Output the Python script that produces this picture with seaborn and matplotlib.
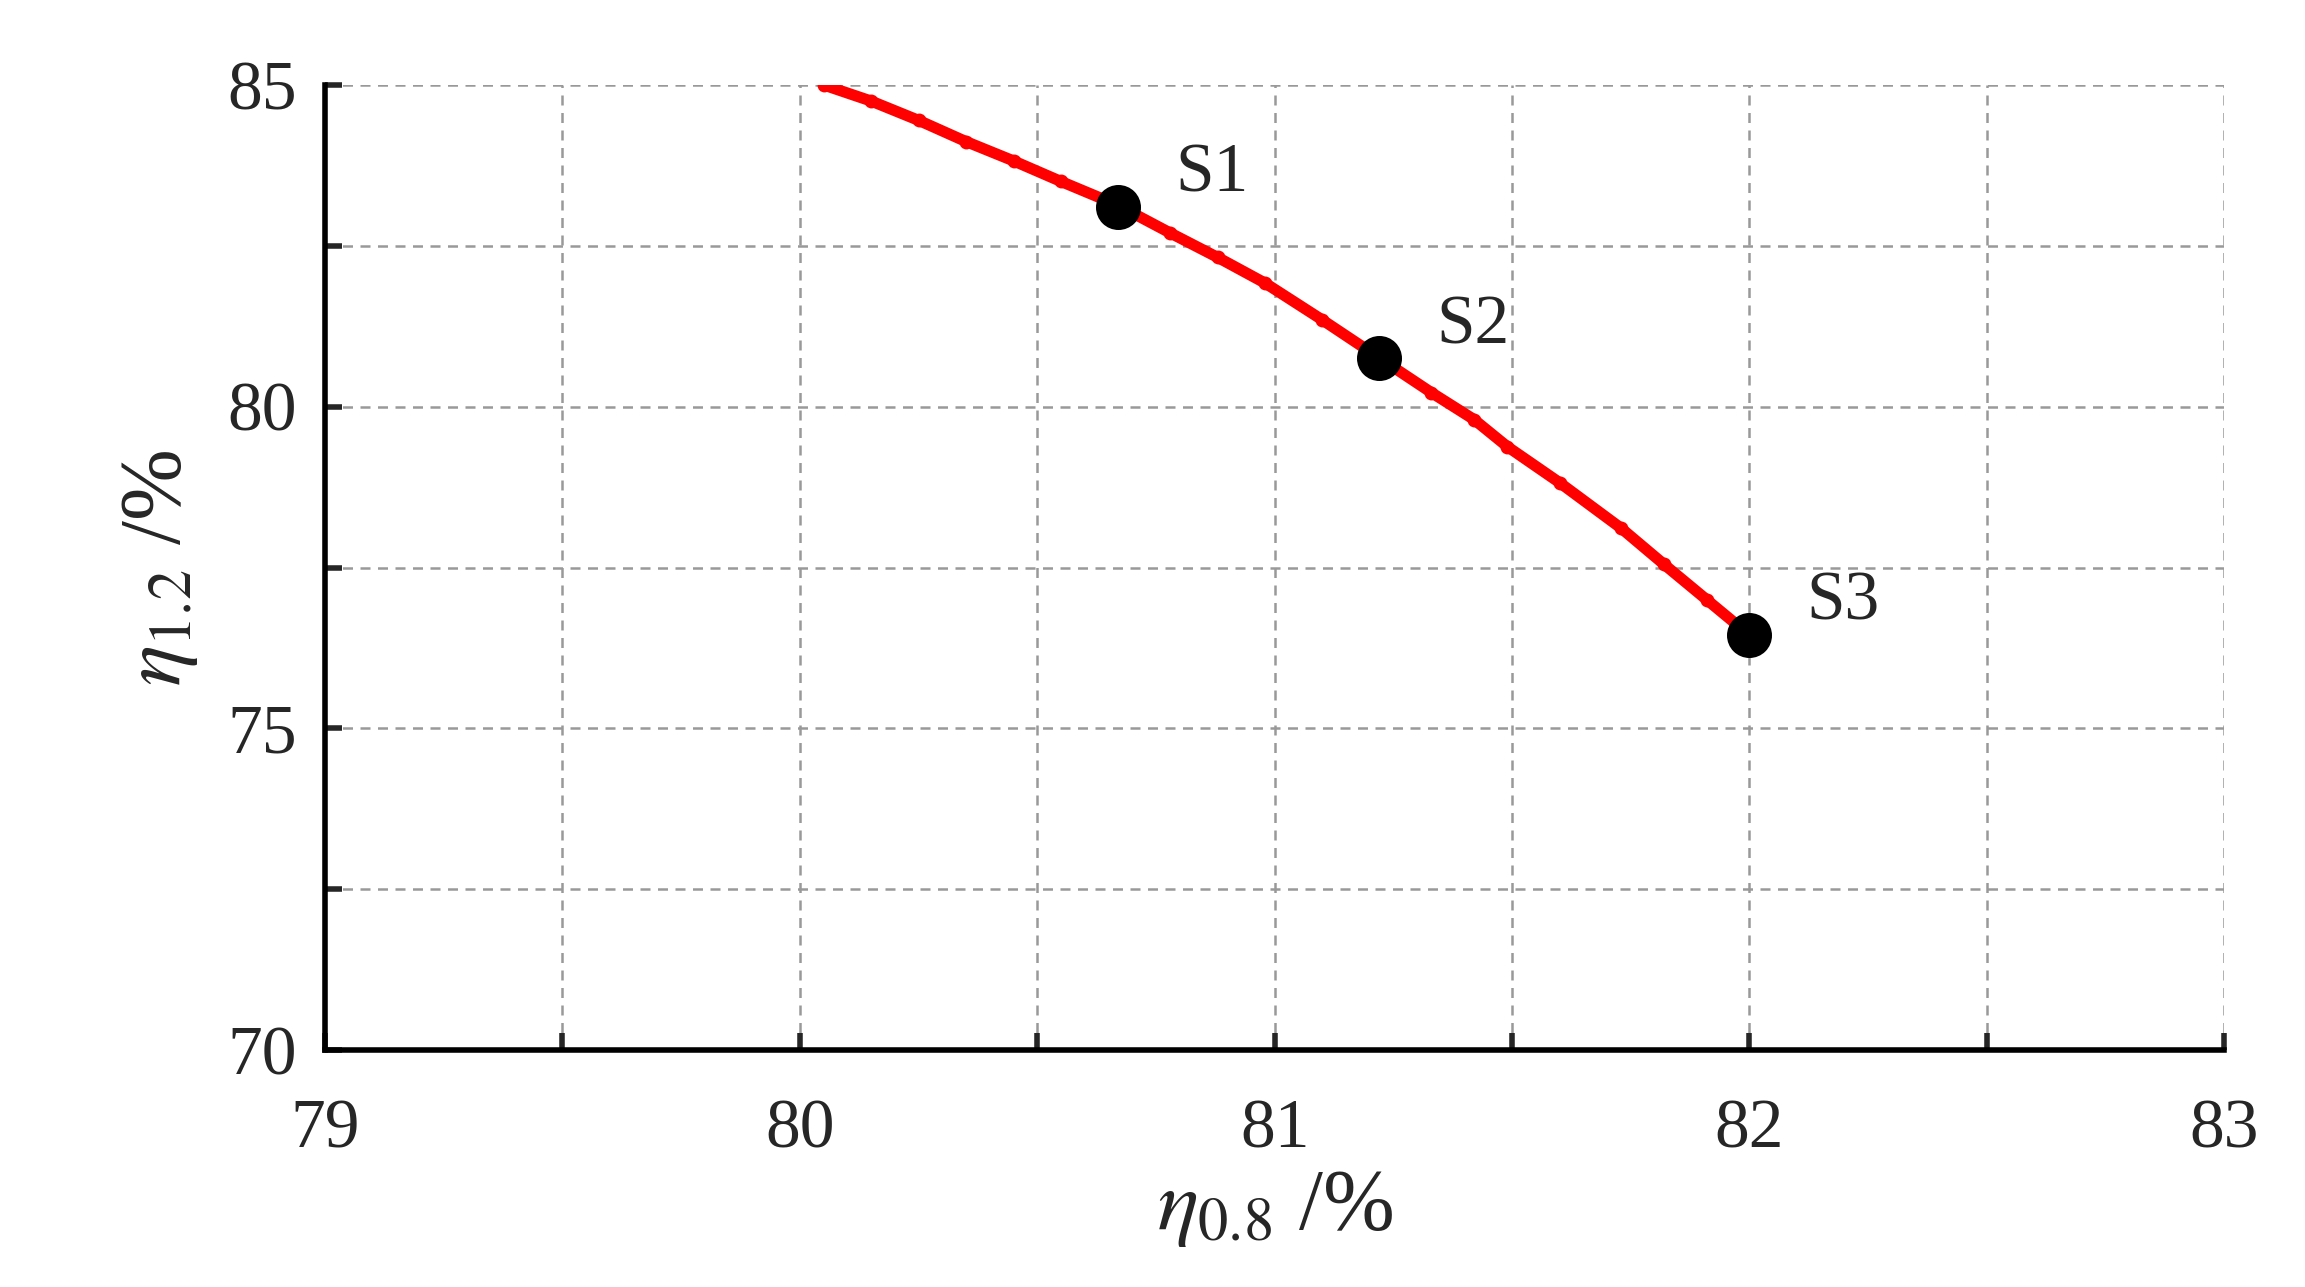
import matplotlib
matplotlib.use("Agg")
import matplotlib.pyplot as plt
import seaborn as sns
import numpy as np

curve_x = [80.05, 80.15, 80.25, 80.35, 80.45, 80.55, 80.67, 80.78, 80.88, 80.98, 81.10, 81.22, 81.33, 81.42, 81.49, 81.60, 81.73, 81.82, 81.91, 82.0]
curve_y = [85.0, 84.75, 84.45, 84.12, 83.82, 83.50, 83.13, 82.70, 82.32, 81.92, 81.35, 80.76, 80.22, 79.80, 79.38, 78.82, 78.11, 77.55, 77.00, 76.45]
sel_x = [80.67, 81.22, 82.0]
sel_y = [83.1, 80.75, 76.45]
sel_labels = ["S1", "S2", "S3"]

sns.set_style("white")
plt.rcParams['font.family'] = ['Liberation Serif', 'DejaVu Serif']
plt.rcParams['mathtext.fontset'] = 'stix'

fig = plt.figure(figsize=(23.05, 12.87), dpi=100)
ax = fig.add_axes([0.141, 0.184, 0.824, 0.75])

sns.lineplot(x=curve_x, y=curve_y, ax=ax, color='red', lw=8, sort=False,
             marker='o', markersize=10, markeredgewidth=0, zorder=3)
sns.scatterplot(x=sel_x, y=sel_y, ax=ax, color='black', s=900, zorder=4, edgecolor='black')
for x, y, t in zip(sel_x, sel_y, sel_labels):
    ax.text(x + 0.12, y + 0.5, t, fontsize=50, ha='left', va='center')

ax.set_xlim(79, 83)
ax.set_ylim(70, 85)
ax.set_xticks([79, 80, 81, 82, 83])
ax.set_xticks(np.arange(79, 83.01, 0.5), minor=True)
ax.set_yticks([70, 75, 80, 85])
ax.set_yticks(np.arange(70, 85.01, 2.5), minor=True)
ax.grid(which='both', ls=(0, (4, 3)), color='#999999', lw=1.8)
for s in ['top', 'right']:
    ax.spines[s].set_visible(False)
for s in ['left', 'bottom']:
    ax.spines[s].set_linewidth(4)
    ax.spines[s].set_color('black')
ax.tick_params(which='both', direction='in', length=12, width=4, labelsize=50,
               bottom=True, left=True)
ax.tick_params(axis='x', which='major', pad=35)
ax.tick_params(axis='y', which='major', pad=20)
ax.set_xlabel(r'$\eta_{0.8}$ /%', fontsize=62, labelpad=5)
ax.set_ylabel(r'$\eta_{1.2}$ /%', fontsize=62, labelpad=20)
fig.savefig('out.png', dpi=100)
